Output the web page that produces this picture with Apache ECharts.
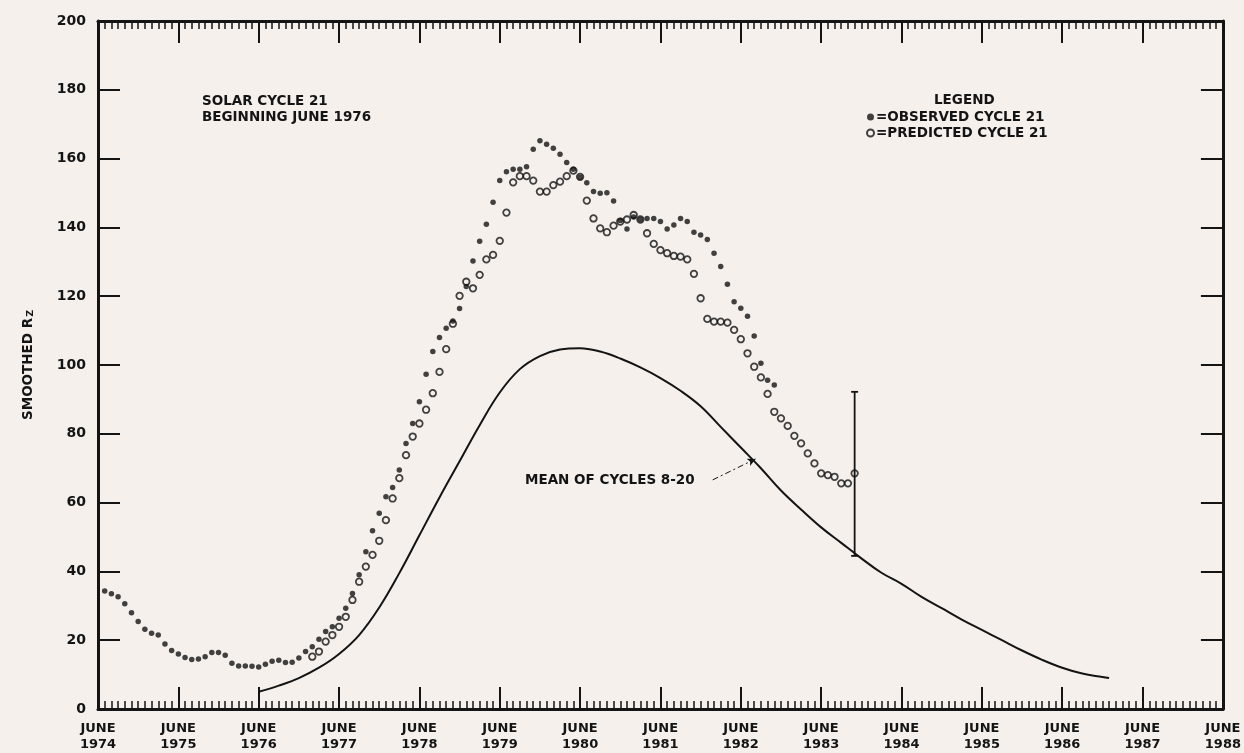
<!DOCTYPE html>
<html>
<head>
<meta charset="utf-8">
<script src="https://cdn.jsdelivr.net/npm/echarts@6/dist/echarts.min.js"></script>
<style>
  html, body { margin: 0; padding: 0; background: #f5f0ec; }
  #chart { width: 1244px; height: 753px; }
</style>
</head>
<body>
<div id="chart"></div>
<script>
// ---- DATA (month index 0 = June 1974) ----
const tickYears = ['1974','1975','1976','1977','1978','1979','1980','1981','1982','1983','1984','1985','1986','1987','1988'];
const tickMonthLabel = 'JUNE';

const observedStart = 1;
const observedValues = [
  34.3,33.5,32.6,30.6,28.0,25.4,23.2,22.0,21.5,18.9,
  17.0,16.0,15.0,14.4,14.5,15.2,16.4,16.4,15.6,13.3,
  12.5,12.5,12.4,12.2,13.0,13.9,14.2,13.5,13.6,14.8,
  16.7,18.1,20.3,22.5,23.9,26.4,29.3,33.6,39.0,45.7,
  51.8,56.9,61.7,64.4,69.5,77.2,83.0,89.3,97.3,103.9,
  108.0,110.7,112.8,116.4,122.8,130.2,136.0,140.9,147.3,153.6,
  156.2,156.9,156.9,157.6,162.7,165.2,164.2,163.0,161.3,158.9,
  156.9,154.6,153.0,150.4,149.9,150.1,147.7,142.0,139.5,143.0,
  142.3,142.6,142.6,141.7,139.5,140.7,142.6,141.7,138.6,137.8,
  136.5,132.5,128.6,123.5,118.4,116.5,114.2,108.4,100.5,95.6,
  94.2
];

const predictedStart = 32;
const predictedValues = [
  15.2,16.7,19.6,21.5,23.9,26.8,31.7,37.0,41.4,44.8,
  48.9,54.9,61.2,67.1,73.8,79.2,83.0,87.0,91.8,98.0,
  104.6,112.0,120.1,124.2,122.3,126.2,130.7,132.0,136.1,144.3,
  153.1,154.9,154.9,153.6,150.4,150.4,152.3,153.3,154.9,156.5,
  154.7,147.8,142.6,139.7,138.6,140.5,141.7,142.3,143.6,142.3,
  138.3,135.2,133.4,132.5,131.7,131.5,130.7,126.5,119.4,113.4,
  112.6,112.6,112.3,110.2,107.5,103.4,99.5,96.4,91.6,86.4,
  84.5,82.3,79.4,77.2,74.3,71.4,68.5,68.0,67.5,65.6,
  65.6,68.5
];

const meanMonths = [24,27,30,33,36,39,42,45,48,51,54,57,60,63,66,69,72,75,78,81,84,87,90,93,96,99,102,105,108,111,114,117,120,123,126,129,132,135,138,141,144,147,150,151];
const meanValues = [5.0,6.8,9.0,12.0,16.0,21.5,29.5,39.5,50.5,61.5,72.0,82.5,92.0,98.8,102.6,104.5,104.9,103.9,101.9,99.3,96.2,92.5,88.0,82.0,76.0,70.0,63.5,58.0,52.8,48.3,43.8,39.6,36.4,32.6,29.3,26.0,23.0,20.0,17.0,14.3,12.0,10.3,9.3,9.0];

const errorBarMonth = [113];
const errorBarLow = [44.5];
const errorBarHigh = [92.2];

const leaderFrom = [91.8, 66.6];
const leaderTo = [98.2, 72.7];

// ---- CHART ----
const INK = '#141414';
const FONT = "'DejaVu Sans', sans-serif";
const chart = echarts.init(document.getElementById('chart'), null, { renderer: 'canvas' });

const obsData = observedValues.map((v, i) => [observedStart + i, v]);
const predData = predictedValues.map((v, i) => [predictedStart + i, v]);
const meanData = meanMonths.map((m, i) => [m, meanValues[i]]);
const errData = errorBarMonth.map((m, i) => [m, errorBarLow[i], errorBarHigh[i]]);

const xCommon = {
  type: 'value', min: 0, max: 168, interval: 12,
  axisLine: { show: true, onZero: false, lineStyle: { color: INK, width: 3 } },
  axisTick: { show: true, inside: true, length: 22, lineStyle: { color: INK, width: 2 } },
  minorTick: { show: true, splitNumber: 12, length: 8, lineStyle: { color: INK, width: 1.5 } },
  splitLine: { show: false }, minorSplitLine: { show: false }
};
const yCommon = {
  type: 'value', min: 0, max: 200, interval: 20,
  axisLine: { show: true, onZero: false, lineStyle: { color: INK, width: 3 } },
  axisTick: { show: true, inside: true, length: 22, lineStyle: { color: INK, width: 2 } },
  splitLine: { show: false }
};

chart.setOption({
  backgroundColor: '#f5f0ec',
  animation: false,
  textStyle: { fontFamily: FONT },
  grid: { left: 98, right: 18, top: 21, bottom: 44 },
  xAxis: [
    Object.assign({}, xCommon, {
      position: 'bottom',
      axisLabel: {
        show: true, color: INK, fontFamily: FONT, fontWeight: 'bold', fontSize: 13,
        lineHeight: 16, margin: 12,
        formatter: v => tickMonthLabel + '\n' + tickYears[Math.round(v / 12)]
      }
    }),
    Object.assign({}, xCommon, { position: 'top', axisLabel: { show: false } })
  ],
  yAxis: [
    Object.assign({}, yCommon, {
      position: 'left',
      name: 'SMOOTHED R{sub|Z}',
      nameLocation: 'middle', nameGap: 62, nameRotate: 90,
      nameTextStyle: {
        color: INK, fontFamily: FONT, fontWeight: 'bold', fontSize: 13.5,
        rich: { sub: { fontSize: 9.5, fontWeight: 'bold', fontFamily: FONT, color: INK, verticalAlign: 'bottom', padding: [6, 0, 0, 1] } }
      },
      axisLabel: { show: true, color: INK, fontFamily: FONT, fontWeight: 'bold', fontSize: 14, margin: 12 }
    }),
    Object.assign({}, yCommon, { position: 'right', axisLabel: { show: false } })
  ],
  legend: {
    orient: 'vertical', left: 866, top: 110, padding: 0,
    itemWidth: 7, itemHeight: 7, itemGap: 2,
    data: ['OBSERVED CYCLE 21', 'PREDICTED CYCLE 21'],
    formatter: n => '=' + n,
    textStyle: { color: INK, fontFamily: FONT, fontWeight: 'bold', fontSize: 13.5, padding: [0, 0, 0, -3] },
    selectedMode: false
  },
  graphic: [
    { type: 'text', left: 934, top: 93, style: { text: 'LEGEND', fill: INK, font: "bold 13.5px 'DejaVu Sans'" } },
    { type: 'text', left: 202, top: 93, style: { text: 'SOLAR CYCLE 21\nBEGINNING JUNE 1976', fill: INK, font: "bold 13.5px 'DejaVu Sans'", lineHeight: 16 } },
    { type: 'text', left: 525, top: 473, style: { text: 'MEAN OF CYCLES 8-20', fill: INK, font: "bold 13.5px 'DejaVu Sans'" } }
  ],
  series: [
    {
      name: 'MEAN OF CYCLES 8-20', type: 'line', data: meanData, smooth: 0.4,
      showSymbol: false, symbol: 'none',
      lineStyle: { color: INK, width: 2 },
      z: 2,
      markLine: {
        silent: true, symbol: ['none', 'arrow'], symbolSize: [6, 8],
        label: { show: false },
        lineStyle: { color: INK, width: 1, type: [6, 3, 2, 3] },
        data: [[{ coord: leaderFrom }, { coord: leaderTo }]]
      }
    },
    {
      name: 'PREDICTED CYCLE 21', type: 'scatter', data: predData,
      symbol: 'circle', symbolSize: 6.5,
      itemStyle: { color: 'rgba(0,0,0,0)', borderColor: INK, borderWidth: 1.8 },
      z: 3
    },
    {
      name: 'OBSERVED CYCLE 21', type: 'scatter', data: obsData,
      symbol: 'circle', symbolSize: 5.5,
      itemStyle: { color: INK },
      z: 4
    },
    {
      name: 'error', type: 'custom', data: errData, z: 3,
      renderItem: function (params, api) {
        const x = api.value(0);
        const lo = api.coord([x, api.value(1)]);
        const hi = api.coord([x, api.value(2)]);
        const cap = 3.5;
        const st = { stroke: INK, lineWidth: 1.8 };
        return {
          type: 'group',
          children: [
            { type: 'line', shape: { x1: lo[0], y1: lo[1], x2: hi[0], y2: hi[1] }, style: st },
            { type: 'line', shape: { x1: lo[0] - cap, y1: lo[1], x2: lo[0] + cap, y2: lo[1] }, style: st },
            { type: 'line', shape: { x1: hi[0] - cap, y1: hi[1], x2: hi[0] + cap, y2: hi[1] }, style: st }
          ]
        };
      }
    }
  ]
});
</script>
</body>
</html>
